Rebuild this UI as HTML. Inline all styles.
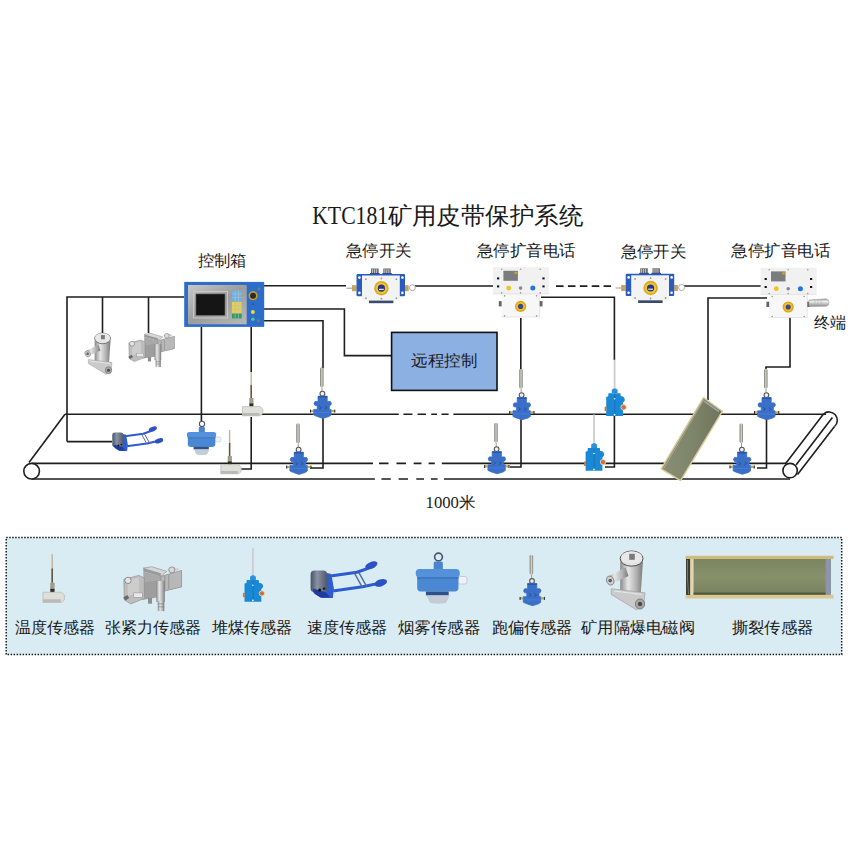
<!DOCTYPE html>
<html><head><meta charset="utf-8">
<style>
html,body{margin:0;padding:0;background:#fff;width:850px;height:850px;overflow:hidden}
svg{display:block}
text{font-family:"Liberation Serif",serif;fill:#1a1a1a}
</style></head><body>
<svg width="850" height="850" viewBox="0 0 850 850">
<defs>
<linearGradient id="steel" x1="0" y1="0" x2="1" y2="1">
<stop offset="0" stop-color="#c8c8c8"/><stop offset="0.5" stop-color="#9c9c9c"/><stop offset="1" stop-color="#b8b8b8"/>
</linearGradient>
<linearGradient id="roller" x1="0" y1="0" x2="1" y2="0"><stop offset="0" stop-color="#4a5266"/><stop offset="0.4" stop-color="#8a92a6"/><stop offset="1" stop-color="#50586c"/></linearGradient>
<linearGradient id="rodg" x1="0" y1="0" x2="1" y2="0">
<stop offset="0" stop-color="#6e6e66"/><stop offset="0.5" stop-color="#d8d8d0"/><stop offset="1" stop-color="#77776f"/>
</linearGradient>
<linearGradient id="metal" x1="0" y1="0" x2="1" y2="0">
<stop offset="0" stop-color="#8a8a8a"/><stop offset="0.35" stop-color="#e6e6e6"/><stop offset="0.7" stop-color="#b4b4b4"/><stop offset="1" stop-color="#7a7a7a"/>
</linearGradient>
<radialGradient id="gold" cx="0.5" cy="0.5" r="0.5">
<stop offset="0.45" stop-color="#243a8a"/><stop offset="0.55" stop-color="#c89a10"/><stop offset="0.8" stop-color="#f0c030"/><stop offset="1" stop-color="#b88a10"/>
</radialGradient>
<linearGradient id="olive2" x1="0" y1="0" x2="1" y2="0"><stop offset="0" stop-color="#8a8f74"/><stop offset="0.5" stop-color="#7f856a"/><stop offset="1" stop-color="#6e735c"/></linearGradient>
<linearGradient id="olive" x1="0" y1="0" x2="0" y2="1">
<stop offset="0" stop-color="#7a8560"/><stop offset="0.5" stop-color="#87916c"/><stop offset="1" stop-color="#76805c"/>
</linearGradient>
<!-- deviation sensor: origin rod top centre -->
<g id="dev">
<rect x="-1.7" y="0" width="3.4" height="19.5" rx="1.4" fill="url(#rodg)"/>
<path d="M0.2,19.5 V23.5" stroke="#999" stroke-width="1"/>
<circle cx="0.6" cy="26.1" r="2.4" fill="#eee" stroke="#555" stroke-width="1.1"/>
<path d="M-8.6,43.4 h-3 M9.6,43.4 h3.4" stroke="#c8a850" stroke-width="2.2"/>
<path d="M-11.3,42 v3 M13,42 v3" stroke="#222" stroke-width="1"/>
<path d="M-3.8,28.6 H5.4 V33.9 H8.6 Q10.6,35.9 8.6,37.9 H7.6 V41.8 H9.3 V47.4 L7.2,48.9 L1,50.8 L-4.6,48.9 L-8.1,47.4 V41.8 H-4.6 V37.9 H-6.8 Q-8.8,35.9 -6.8,33.9 H-3.8 Z" fill="#3a6fc8" stroke="#3a6fc8" stroke-width="0.8" stroke-linejoin="round"/>
<path d="M-3.8,28.6 H5.4 V30 H-3.8 Z" fill="#2a55a8"/>
<path d="M-2.6,38.5 l2.2,1.6 l-2.2,1.6 M3,38.5 l2.2,1.6 l-2.2,1.6" stroke="#2a4e9a" stroke-width="0.9" fill="none"/>
<path d="M-8,45 H9" stroke="#4a80d8" stroke-width="0.8"/>
</g>
<!-- pile sensor -->
<g id="pile">
<rect x="-0.9" y="0" width="1.8" height="29" fill="#cdcdcd"/>
<path d="M-2.8,33.5 V30 Q0,27 3,30 V33.5 Z" fill="#2a90de"/>
<path d="M-6.2,33.5 H5.8 L6.2,36.5 H7.4 Q10.4,37.2 10.2,40.8 L8.4,43 V56.3 H-8.4 V37.2 L-6.4,36.5 Z" fill="#1b88d6"/>
<path d="M0.2,34 V56" stroke="#1470b8" stroke-width="0.8"/>
<circle cx="0" cy="55" r="0.9" fill="#dfe"/>
<circle cx="0" cy="39" r="0.8" fill="#dfe"/>
<circle cx="9" cy="47.6" r="2.7" fill="#d07034" stroke="#f4e0d0" stroke-width="0.8"/>
<rect x="-10" y="47" width="1.8" height="4.5" fill="#c87a40"/>
</g>
<!-- temp sensor -->
<g id="temp">
<rect x="-0.7" y="0" width="1.4" height="26" fill="#c0b49a"/>
<rect x="-0.7" y="13" width="1.4" height="13" fill="#5a5040"/>
<rect x="-1.9" y="26" width="4.2" height="6.5" fill="#a29c8a"/>
<rect x="-1.8" y="31.5" width="4" height="3.2" fill="#2b2b2b"/>
<path d="M-8.8,34.6 H9 L11.6,37 V41.5 L9,43.8 H-8.8 Z" fill="#dedfda" stroke="#b8b8b0" stroke-width="0.7"/>
<rect x="-8.8" y="41" width="17" height="2.8" fill="#b9bab4"/>
</g>
<!-- smoke sensor origin ring centre -->
<g id="smoke">
<circle cx="0" cy="0" r="2.6" fill="none" stroke="#4a5470" stroke-width="1.1"/>
<rect x="-3.2" y="3" width="6.1" height="5.5" rx="1" fill="#4a84cc"/>
<rect x="13" y="13" width="6" height="5" rx="1.5" fill="#eef2f6" stroke="#b8c0c8" stroke-width="0.5"/>
<path d="M-14.2,13 H13.3 V20.6 Q13.3,23 10,23 H-11 Q-14.2,23 -14.2,20.6 Z" fill="#4a88d4"/>
<rect x="-15.2" y="8" width="29.4" height="5.6" rx="2.6" fill="#5590da"/>
<path d="M-14.2,14 H13.3" stroke="#3c72bc" stroke-width="0.9"/>
<rect x="-8.4" y="23" width="15.2" height="2.6" fill="#2e5288"/>
<path d="M-8,25.6 H7.5 L5,30.6 Q0,31.6 -5.5,30.6 Z" fill="#c4ccd6"/>
</g>
<!-- emergency switch origin ring centre -->
<g id="sw">
<rect x="-10.4" y="-19.7" width="7.6" height="5.5" fill="#6a6a6a"/>
<rect x="1.9" y="-19.7" width="7.5" height="5.5" fill="#6a6a6a"/>
<path d="M-9,-19 v4 M-7,-19 v4 M-5,-19 v4 M3.4,-19 v4 M5.4,-19 v4 M7.4,-19 v4" stroke="#e8e8e8" stroke-width="0.7"/>
<rect x="-11.4" y="-15.2" width="9.6" height="2" fill="#2f4a8c"/>
<rect x="0.9" y="-15.2" width="9.5" height="2" fill="#2f4a8c"/>
<path d="M-35,0 h8" stroke="#999" stroke-width="1"/>
<rect x="-29.4" y="-3" width="4.5" height="6" fill="#c6a460"/>
<rect x="23.6" y="-3" width="3.7" height="6" fill="#c6a460"/>
<circle cx="31" cy="-0.5" r="3" fill="#fff" stroke="#aaa" stroke-width="1"/>
<rect x="-24.9" y="-14.2" width="48.5" height="22.2" rx="1" fill="#2a5cc0"/>
<rect x="-12.5" y="12" width="24.5" height="3" fill="#3b4a70"/>
<rect x="-19.4" y="-12.7" width="37.8" height="25" fill="#f3f3f3"/>
<g fill="#fff"><circle cx="-22" cy="-10.6" r="1.3"/><circle cx="-22" cy="4.7" r="1.3"/><circle cx="21" cy="-10.6" r="1.3"/><circle cx="21" cy="4.7" r="1.3"/></g>
<g fill="#999"><circle cx="-15.5" cy="-9" r="0.9"/><circle cx="15" cy="-9" r="0.9"/><circle cx="-15.5" cy="10" r="0.9"/><circle cx="15" cy="10" r="0.9"/><circle cx="0" cy="-9.8" r="0.9"/><circle cx="0" cy="10.5" r="0.9"/></g>
<circle r="7.2" fill="#dca820"/>
<circle r="5.6" fill="#f2c63a"/>
<circle r="3.6" fill="#27387e"/>
<path d="M-2.4,1.2 H2.4" stroke="#e8e8e8" stroke-width="1.2"/>
</g>
<!-- phone origin ring centre -->
<g id="phone">
<rect x="-27.6" y="-39.2" width="56" height="26.6" fill="#f1f1f1"/>
<rect x="-19.1" y="-12.6" width="38.2" height="23.2" fill="#f7f7f7"/>
<path d="M-19.1,10.6 H19.1 V-12.6 M-27.6,-12.6 H28.4" stroke="#dcdcdc" stroke-width="0.7" fill="none"/>
<rect x="-17.2" y="-35.6" width="14.5" height="10" fill="#7b7b80"/>
<rect x="-6" y="-34.6" width="2.6" height="2" fill="#c8b020"/>
<g fill="#111"><rect x="-23.6" y="-29" width="2.2" height="2"/><rect x="-23.6" y="-21" width="2.2" height="2"/><rect x="21.8" y="-29" width="2.2" height="2"/><rect x="21.8" y="-21" width="2.2" height="2"/></g>
<g fill="#999"><circle cx="-19" cy="-37.2" r="0.8"/><circle cx="0" cy="-37.2" r="0.8"/><circle cx="19.6" cy="-37.2" r="0.8"/><circle cx="-19" cy="-13.5" r="0.8"/><circle cx="0" cy="-13.5" r="0.8"/><circle cx="19.6" cy="-13.5" r="0.8"/><circle cx="-16" cy="-10.5" r="0.8"/><circle cx="16" cy="-10.5" r="0.8"/><circle cx="-16" cy="9.5" r="0.8"/><circle cx="16" cy="9.5" r="0.8"/></g>
<circle cx="-11.9" cy="-18.3" r="2.4" fill="#f0c418"/>
<circle cx="0" cy="-18.3" r="1.8" fill="#888"/>
<circle cx="12.2" cy="-18.3" r="2.5" fill="#1a78e0"/>
<rect x="-21.8" y="-5.3" width="2.8" height="5.3" fill="#6a6260"/>
<rect x="19.1" y="-5.3" width="2.8" height="5.3" fill="#6a6260"/>
<circle r="5.6" fill="#e0a810"/>
<circle r="4.2" fill="#f2c030"/>
<circle r="2.6" fill="#3a4a88"/>
</g>
<!-- speed sensor origin roller left mid -->
<g id="speed">
<path d="M14.5,3.4 L30.9,1.1 L41.6,-2.6 M16,13.5 L34.7,10.8 L47.6,8" stroke="#2d5cd0" stroke-width="2" fill="none" stroke-linecap="round" stroke-linejoin="round"/>
<path d="M29.2,1.6 L34.4,11 M32.2,1.3 L37.4,10.6" stroke="#5a6a9a" stroke-width="1" fill="none"/>
<ellipse cx="40.5" cy="-3.6" rx="4.3" ry="2.2" transform="rotate(-22 40.5 -3.6)" fill="#2a52c4"/>
<ellipse cx="46.8" cy="8.2" rx="4.3" ry="2.3" transform="rotate(-18 46.8 8.2)" fill="#2a52c4"/>
<path d="M9.5,1.2 L13.8,2.2 L15.6,12.5 L14.8,18.3 L7.5,18.3 L2.5,15.5 L9.5,13.5 Z" fill="#2f5dcd"/>
<rect x="0" y="0" width="11" height="14.4" rx="2.6" fill="url(#roller)"/>
<path d="M1.5,12 L10,14.5 L13,17.8 L6.5,18 L2,15 Z" fill="#1f3c9c"/>
<circle cx="6" cy="13" r="1" fill="#111"/><circle cx="9" cy="12" r="0.8" fill="#111"/>
</g>
<!-- valve: origin top-left area -->
<g id="valve">
<path d="M14.2,11.5 L36.9,11.5 L34.8,43.6 L14.2,43.6 Z" fill="url(#metal)"/>
<path d="M5.2,38.7 L39,42.8 L38,52.7 L30.7,60 L5.2,44.4 Z" fill="#cacaca" stroke="#9a9a9a" stroke-width="0.6"/>
<path d="M8,41 L36,44.5" stroke="#e8e8e8" stroke-width="1.2"/>
<ellipse cx="34" cy="54" rx="4.6" ry="5" fill="#a8a8a8" stroke="#6a6a6a" stroke-width="0.8"/>
<circle cx="34" cy="54" r="2.2" fill="#4a4a4a"/>
<path d="M1,27 L19.5,17.5 L22.5,26 L4,34.5 Z" fill="url(#metal)"/>
<ellipse cx="4.2" cy="30.6" rx="3.6" ry="4.6" transform="rotate(-25 4.2 30.6)" fill="#d0d0d0" stroke="#7a7a7a" stroke-width="0.8"/>
<circle cx="4.2" cy="30.6" r="1.8" fill="#5a5a5a"/>
<ellipse cx="25.6" cy="8.6" rx="11.4" ry="7.6" fill="#e2e2e2" stroke="#3c3c3c" stroke-width="0.9"/>
<ellipse cx="25.6" cy="7.4" rx="10.5" ry="6.2" fill="#e8e8e8"/>
<rect x="23.2" y="3.8" width="5.6" height="6" fill="#7a7a7a"/>
</g>
<!-- tension sensor -->
<g id="tension">
<path d="M19.5,4.5 L37,9.5 L57.8,3.5 L57.8,20 L37,25 L19.5,19 Z" fill="#a9a9a9"/>
<path d="M19.5,1.2 L28,-0.2 L43,4.5 L37,9.5 Z" fill="#d6d6d6" stroke="#8a8a8a" stroke-width="0.6"/>
<path d="M19.5,1.2 L37,6.3 V9.5 L19.5,4.5 Z" fill="#9a9a9a"/>
<path d="M37,9.5 L57.8,3.5 V20 L37,25 Z" fill="#b8b8b8" stroke="#8a8a8a" stroke-width="0.6"/>
<path d="M43,3 L50,0 L56,2 L50,5 Z" fill="#cfcfcf"/>
<circle cx="48" cy="3" r="3" fill="#d8d8d8" stroke="#7a7a7a" stroke-width="0.7"/>
<path d="M41,9 V23 M45,8 V22" stroke="#8a8a8a" stroke-width="0.8"/>
<path d="M18,16 L36,13 V30 L18,33 Z" fill="#9e9e9e"/>
<path d="M0,12.5 L15,8.5 L20.5,11 V31.5 L7,37 L0.5,33 Z" fill="#bdbdbd" stroke="#8a8a8a" stroke-width="0.6"/>
<path d="M4,13 L15,10.5 L15.5,26 L4,29 Z" fill="#cdcdcd"/>
<circle cx="4.2" cy="13.5" r="3.2" fill="#e4e4e4" stroke="#7a7a7a" stroke-width="0.8"/>
<rect x="10" y="26" width="8.5" height="4.5" fill="#e8e8e8" stroke="#888" stroke-width="0.5"/>
<path d="M-0.5,30.5 L3.5,28 L5.5,31 L1.5,33.5 Z" fill="#6a6a6a"/>
<rect x="32.5" y="14" width="8.5" height="21" fill="url(#metal)"/>
<rect x="24.2" y="31" width="4" height="5.8" fill="#8e8e8e"/>
<rect x="34" y="34" width="6.5" height="10.2" fill="url(#metal)"/>
<path d="M34,37 h6.5 M34,40 h6.5" stroke="#777" stroke-width="0.6"/>
</g>
</defs>
<rect width="850" height="850" fill="#fff"/>
<!-- title -->
<text x="312.2" y="223.8" font-size="24.5" textLength="76" lengthAdjust="spacingAndGlyphs">KTC181</text>
<text x="387.6" y="223.5" font-size="24" textLength="195.5" lengthAdjust="spacingAndGlyphs">矿用皮带保护系统</text>
<!-- labels -->
<g font-size="16">
<text x="197.6" y="266.4" textLength="49.2" lengthAdjust="spacingAndGlyphs">控制箱</text>
<text x="345.8" y="255.6" textLength="66.2" lengthAdjust="spacingAndGlyphs">急停开关</text>
<text x="476.6" y="255.6" textLength="99" lengthAdjust="spacingAndGlyphs">急停扩音电话</text>
<text x="620.6" y="256.6" textLength="65.8" lengthAdjust="spacingAndGlyphs">急停开关</text>
<text x="731" y="256" textLength="99.5" lengthAdjust="spacingAndGlyphs">急停扩音电话</text>
<text x="814.2" y="328" textLength="32.5" lengthAdjust="spacingAndGlyphs">终端</text>
<text x="425.6" y="507.6" textLength="50" lengthAdjust="spacingAndGlyphs">1000米</text>
</g>
<!-- wires -->
<g fill="none" stroke="#1e1e1e" stroke-width="1.6">
<path d="M67,441.6 V297 H184 M102.5,297 V333 M148.5,297 V333 M67,441.6 H112"/>
<path d="M264,285.8 H346 M264,309 H344.4 V355.6 H391.6 M264,320.8 H323 V367.5 H321.8"/>
<path d="M201.4,327 V421 M251.2,327 V372 M251.2,417 V469 H240 M323,418 V468 H310"/>
<path d="M415,286 H494 M684,286 H763"/>
<path d="M541,297.3 H614.4 V360 M520.8,318 V370 M521,419 V467 H510 M614.4,416 V467 H605"/>
<path d="M767,298 H708 V400 M790,317 V367 H766 V369 M766.5,419 V468 H757"/>
<path d="M556,286.1 H611" stroke-dasharray="7.6 4.3"/>
<!-- belt -->
<path d="M65,414.3 H398.8 M403.4,414.3 H412.4 M417.6,414.3 H426 M431.2,414.3 H437 M441.5,414.3 H448.6 M453.4,414.3 H826"/>
<path d="M31.6,463.4 H373 M379,463.4 H388.5 M396.5,463.4 H406 M413.7,463.4 H421.5 M428.6,463.4 H434.8 M441.8,463.4 H786"/>
<path d="M31.6,479 H374.9 M381.4,479 H390.8 M398.6,479 H408 M416.3,479 H424 M431,479 H437.6 M444,479 H790"/>
<path d="M65,414.3 L29,462.5"/>
<circle cx="31.6" cy="471.2" r="7.8" fill="#fff"/>
<path d="M785.5,463.8 L823.5,414 M797.5,474.5 L834.5,426.5 M796,465 L832.4,417.5"/>
<path d="M823.5,414 A7.6,7.6 0 0 1 834.5,426.5"/>
<circle cx="790.1" cy="470.6" r="7.2" fill="#fff"/>
</g>
<!-- remote box -->
<rect x="391.6" y="332.4" width="105.4" height="58" fill="#8db0e3" stroke="#111" stroke-width="1.6"/>
<text x="411.4" y="366.2" font-size="16" textLength="66" lengthAdjust="spacingAndGlyphs">远程控制</text>

<!-- control box -->
<rect x="184.2" y="281.9" width="80" height="45" fill="#2b6dc9"/>
<rect x="188" y="285" width="58.7" height="39.3" fill="url(#steel)"/>
<rect x="193.5" y="291.5" width="34" height="26.5" fill="none" stroke="#c8c8c8" stroke-width="1"/>
<rect x="195.9" y="293.9" width="29.1" height="21.6" fill="#151515" stroke="#777" stroke-width="0.6"/>
<rect x="232" y="290.4" width="9.7" height="11.1" fill="#6cb2ea"/>
<rect x="232" y="302" width="9.7" height="11" fill="#e6d044"/>
<rect x="232" y="313.7" width="9.7" height="4.7" fill="#2f9c60"/>
<path d="M235.2,290.4 V318.4 M238.5,290.4 V318.4 M232,294 H241.7 M232,297.7 H241.7 M232,305.7 H241.7 M232,309.4 H241.7" stroke="#b8c0c0" stroke-width="0.6"/>
<circle cx="253" cy="304" r="1" fill="#3050a0"/>
<circle cx="253.1" cy="295.7" r="4.6" fill="#c49c28"/>
<circle cx="253.1" cy="295.7" r="3" fill="#2a2a30"/>
<circle cx="258.9" cy="288.8" r="1.5" fill="#777"/>
<circle cx="258.4" cy="320.8" r="1.5" fill="#777"/>
<circle cx="252.9" cy="312" r="1.9" fill="#f2e030"/>
<circle cx="252.9" cy="319.3" r="1.7" fill="#60c090"/>

<!-- products in diagram -->
<use href="#valve" transform="translate(84.7,332.4) scale(0.7)"/>
<use href="#tension" transform="translate(128.8,333.5) scale(0.79,0.76)"/>
<use href="#speed" transform="translate(112.3,432.6)"/>
<use href="#smoke" transform="translate(202,423.9)"/>
<use href="#temp" transform="translate(251.2,372)"/>
<use href="#temp" transform="translate(229.6,430)"/>
<use href="#dev" transform="translate(321.8,367.6)"/>
<use href="#dev" transform="translate(298,423.6)"/>
<use href="#dev" transform="translate(496,423)"/>
<use href="#dev" transform="translate(521,369)"/>
<use href="#dev" transform="translate(765.8,369)"/>
<use href="#dev" transform="translate(741.3,423.5)"/>
<use href="#pile" transform="translate(614.6,359.7)"/>
<use href="#pile" transform="translate(594,414.5)"/>
<use href="#sw" transform="translate(381.4,288.2)"/>
<use href="#sw" transform="translate(650.6,288)"/>
<use href="#phone" transform="translate(520.6,306.4)"/>
<use href="#phone" transform="translate(788.2,307)"/>
<!-- terminal -->
<linearGradient id="term" x1="0" y1="0" x2="0" y2="1"><stop offset="0" stop-color="#9a9a9a"/><stop offset="0.35" stop-color="#eeeeee"/><stop offset="1" stop-color="#8a8a8a"/></linearGradient>
<path d="M809,300 L826,298.8 Q829,299.2 829,302.6 Q829,306 826,306.3 L809,306.5 Z" fill="url(#term)" stroke="#9a9a9a" stroke-width="0.5"/>
<path d="M815,299.5 V306.2 M818,299.3 V306.2 M821,299.1 V306.3" stroke="#a8a8a8" stroke-width="0.5"/>
<!-- tear sensor -->
<path d="M703.5,397.6 L722.4,411.2 L680.6,480.6 L661.2,468.8 Z" fill="url(#olive2)" stroke="#d8cc98" stroke-width="1.4" stroke-linejoin="round"/>
<path d="M664,468 L703.5,400" stroke="#a8aa90" stroke-width="1"/>
<path d="M704,401 L719,411.5" stroke="#9aa0a8" stroke-width="2"/>

<!-- legend panel -->
<rect x="6.2" y="537.6" width="835.5" height="116.9" fill="#d9ecf3"/>
<rect x="6.2" y="537.6" width="835.5" height="116.9" fill="none" stroke="#1a1a1a" stroke-width="1.5" stroke-dasharray="1.5 1.5"/>
<use href="#temp" transform="translate(52.2,554.2) scale(1.05,1.1)"/>
<use href="#tension" transform="translate(123.8,566.9)"/>
<use href="#pile" transform="translate(252.9,548.2) scale(1,0.95)"/>
<use href="#speed" transform="translate(310.6,570.6) scale(1.5)"/>
<use href="#smoke" transform="translate(438.5,557) scale(1.5)"/>
<use href="#dev" transform="translate(531.4,554.9)"/>
<use href="#valve" transform="translate(606,550)"/>
<!-- legend tear sensor -->
<rect x="686" y="558.5" width="145" height="37" fill="url(#olive)"/>
<rect x="686" y="558.5" width="4.2" height="37" fill="#3c3c36"/>
<path d="M687.5,560 Q686.8,577 688.5,594" stroke="#8a8a80" stroke-width="0.8" fill="none"/>
<rect x="690.2" y="558.5" width="3.4" height="37" fill="#e2d4b0"/>
<rect x="825.6" y="558.5" width="5.3" height="37" fill="#8c96a8"/>
<rect x="693.6" y="592.6" width="132" height="2" fill="#4e5538"/>
<rect x="685.6" y="555.8" width="148" height="3.2" fill="#cdbb80"/>
<rect x="685.6" y="594.9" width="148" height="3.6" fill="#d8c890"/>
<g font-size="16">
<text x="15" y="633" textLength="80.5" lengthAdjust="spacingAndGlyphs">温度传感器</text>
<text x="104.5" y="633" textLength="96.5" lengthAdjust="spacingAndGlyphs">张紧力传感器</text>
<text x="211.5" y="633" textLength="80.5" lengthAdjust="spacingAndGlyphs">堆煤传感器</text>
<text x="306.5" y="633" textLength="81" lengthAdjust="spacingAndGlyphs">速度传感器</text>
<text x="397.5" y="633" textLength="82.5" lengthAdjust="spacingAndGlyphs">烟雾传感器</text>
<text x="491.5" y="633" textLength="81" lengthAdjust="spacingAndGlyphs">跑偏传感器</text>
<text x="581" y="633" textLength="114" lengthAdjust="spacingAndGlyphs">矿用隔爆电磁阀</text>
<text x="731.5" y="633" textLength="82" lengthAdjust="spacingAndGlyphs">撕裂传感器</text>
</g>
</svg>
</body></html>
